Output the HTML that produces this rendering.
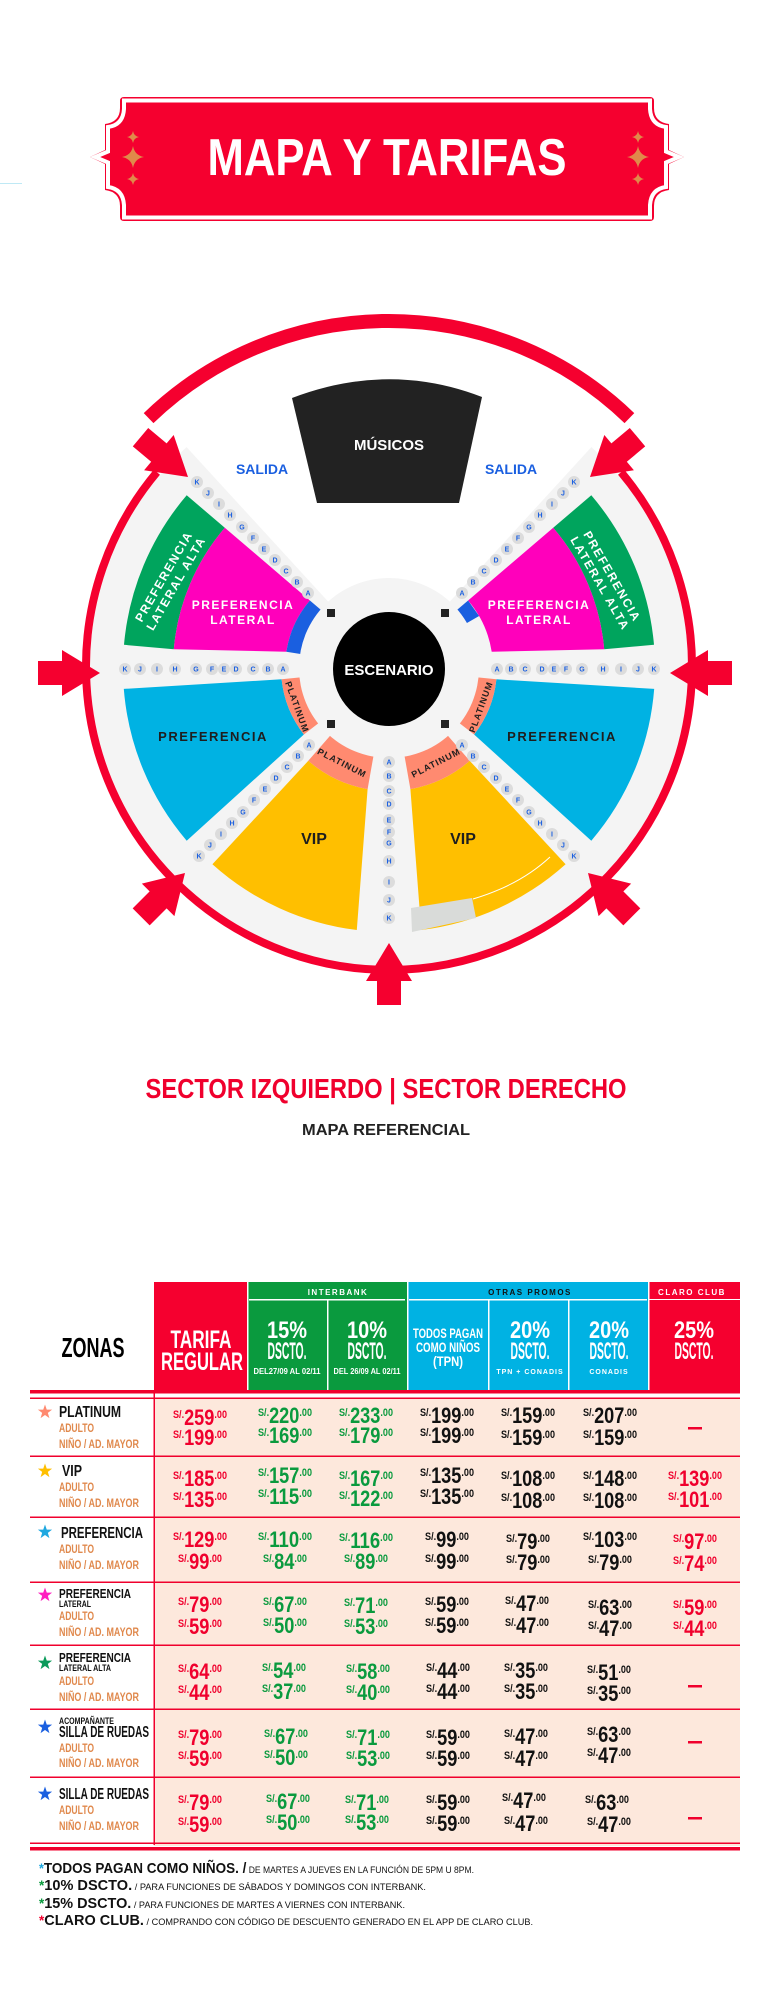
<!DOCTYPE html>
<html><head><meta charset="utf-8"><style>
html,body{margin:0;padding:0;background:#fff}
svg{display:block}
text{font-family:"Liberation Sans Narrow","Liberation Sans",sans-serif;font-weight:bold}
.L circle{fill:#dcdcdc}
.L text{fill:#1a5fe0;font-size:7px;text-anchor:middle;font-family:"Liberation Sans",sans-serif}
.r{fill:#f0002d}.g{fill:#0a9a3e}.k{fill:#111}
.s{font-size:11px}.b{font-size:22px}
.zn{fill:#111;font-size:16px}.za{fill:#e0894d;font-size:12px}
.hw{fill:#fff;text-anchor:middle}
</style></head><body>
<svg width="768" height="2002" viewBox="0 0 768 2002" xmlns="http://www.w3.org/2000/svg">
<defs>
<path id="star" d="M0,-7.5 L1.76,-2.43 L7.13,-2.32 L2.85,0.93 L4.41,6.07 L0,3 L-4.41,6.07 L-2.85,0.93 L-7.13,-2.32 L-1.76,-2.43 Z"/>
<path id="arw" d="M0,0 L-38,-23 L-38,-12 L-62,-12 L-62,12 L-38,12 L-38,23 Z"/>
<path id="sp" d="M0,-1 Q0.15,-0.15 1,0 Q0.15,0.15 0,1 Q-0.15,0.15 -1,0 Q-0.15,-0.15 0,-1 Z"/>
</defs>
<rect x="0" y="183" width="22" height="1" fill="#bfe9f5"/>
<!-- Banner -->
<path d="M124,97 H650 Q654,97 654,101 V108 Q654,122 669,124 V150 L684,157 L669,164 V190 Q654,192 654,206 V217 Q654,221 650,221 H124 Q120,221 120,217 V206 Q120,192 105,190 V164 L90,157 L105,150 V124 Q120,122 120,108 V101 Q120,97 124,97 Z" fill="#f5002f"/>
<path d="M124,100.5 H650 V109 Q651,125 666,127 V151.5 L679,157 L666,162.5 V187 Q651,189 650,205 V217.5 H124 V205 Q123,189 108,187 V162.5 L95,157 L108,151.5 V127 Q123,125 124,109 Z" fill="none" stroke="#fff" stroke-width="4"/>
<g fill="#e08a4a">
<use href="#sp" transform="translate(133,137) scale(6)"/><use href="#sp" transform="translate(133,157) scale(11)"/><use href="#sp" transform="translate(133,179) scale(6)"/>
<use href="#sp" transform="translate(638,137) scale(6)"/><use href="#sp" transform="translate(638,157) scale(11)"/><use href="#sp" transform="translate(638,179) scale(6)"/>
</g>
<text x="387" y="175" font-size="52" fill="#fff" text-anchor="middle" textLength="359" lengthAdjust="spacingAndGlyphs">MAPA Y TARIFAS</text>

<!-- Map -->
<circle cx="389" cy="667" r="299" fill="#f4f4f4"/>
<polygon points="389,668 -16,226 794,226" fill="#fff"/>
<path d="M148.6,418.1 A346 346 0 0 1 629.4,418.1" fill="none" stroke="#f5002f" stroke-width="14"/>
<path d="M156.9,472.2 A303 303 0 1 0 621.1,472.2" fill="none" stroke="#f5002f" stroke-width="8"/>
<path d="M292,398 Q389,361 482,397 L459,503 L317,503 Z" fill="#222"/>
<text x="389" y="450" font-size="15" fill="#fff" text-anchor="middle">MÚSICOS</text>
<text x="262" y="474" font-size="14" fill="#1a5fe0" text-anchor="middle">SALIDA</text>
<text x="511" y="474" font-size="14" fill="#1a5fe0" text-anchor="middle">SALIDA</text>

<!-- left sections -->
<path d="M186.7,495.3 A266 266 0 0 0 124,644.8 L173.8,649.2 A216 216 0 0 1 224.8,527.7 Z" fill="#00a45d"/>
<path d="M224.8,527.7 A216 216 0 0 0 173.8,649.2 L286.3,651.7 A104 104 0 0 1 309.9,600.5 Z" fill="#ff00bb"/>
<path d="M309.9,600.5 A104 104 0 0 0 286.3,651.7 L302.1,654.2 A88 88 0 0 1 322.1,610.9 Z" fill="#1a5fe0"/>
<path d="M123.8,688.9 A266 266 0 0 0 186.7,840.7 L303.9,734.5 A108 108 0 0 1 281.6,679.3 Z" fill="#00b2e3"/>
<path d="M281.6,679.3 A108 108 0 0 0 303.9,734.5 L319.7,722.2 A88 88 0 0 1 301.5,677.2 Z" fill="#ff8a70"/>
<path d="M212.4,864.2 A264 264 0 0 0 356.8,930 L367.6,789.1 A123 123 0 0 1 308.3,760.8 Z" fill="#ffbf00"/>
<path d="M308.3,760.8 A123 123 0 0 0 367.6,789.1 L373.7,754.7 A88 88 0 0 1 331.3,734.4 Z" fill="#ff8a70"/>
<!-- right sections -->
<path d="M591.3,495.3 A266 266 0 0 1 654,644.8 L604.2,649.2 A216 216 0 0 0 553.2,527.7 Z" fill="#00a45d"/>
<path d="M553.2,527.7 A216 216 0 0 1 604.2,649.2 L491.7,651.7 A104 104 0 0 0 468.1,600.5 Z" fill="#ff00bb"/>
<path d="M468.1,600.5 L479.1,616 L465.2,624 L455.9,610.9 Z" fill="#1a5fe0"/>
<path d="M654.2,688.9 A266 266 0 0 1 591.3,840.7 L474.1,734.5 A108 108 0 0 0 496.4,679.3 Z" fill="#00b2e3"/>
<path d="M496.4,679.3 A108 108 0 0 1 474.1,734.5 L458.3,722.2 A88 88 0 0 0 476.5,677.2 Z" fill="#ff8a70"/>
<path d="M565.6,864.2 A264 264 0 0 1 421.2,930 L410.4,789.1 A123 123 0 0 0 469.7,760.8 Z" fill="#ffbf00"/>
<path d="M469.7,760.8 A123 123 0 0 1 410.4,789.1 L404.3,754.7 A88 88 0 0 0 446.7,734.4 Z" fill="#ff8a70"/>
<polygon points="411,908 472,898 476,918 412,932" fill="#d9dbd9"/>
<path d="M473,899 Q520,885 550,857" fill="none" stroke="#fff" stroke-width="1"/>

<circle cx="389" cy="668" r="90" fill="#f4f4f4"/>
<ellipse cx="389" cy="669" rx="56" ry="57" fill="#000"/>
<text x="389" y="675" font-size="15" fill="#fff" text-anchor="middle">ESCENARIO</text>
<g fill="#222"><rect x="327" y="609" width="8" height="8"/><rect x="441" y="609" width="8" height="8"/><rect x="327" y="720" width="8" height="8"/><rect x="441" y="720" width="8" height="8"/></g>

<g fill="#fff" font-size="12" letter-spacing="1.5" text-anchor="middle" font-family="Liberation Sans">
<text x="243" y="609">PREFERENCIA</text><text x="243" y="624">LATERAL</text>
<text x="539" y="609">PREFERENCIA</text><text x="539" y="624">LATERAL</text>
<g transform="translate(170,580) rotate(-60)"><text x="0" y="-3">PREFERENCIA</text><text x="0" y="11">LATERAL ALTA</text></g>
<g transform="translate(606,580) rotate(60)"><text x="0" y="-3">PREFERENCIA</text><text x="0" y="11">LATERAL ALTA</text></g>
</g>
<g fill="#1e1e1e" text-anchor="middle">
<text x="213" y="741" font-size="13" letter-spacing="1.5">PREFERENCIA</text>
<text x="562" y="741" font-size="13" letter-spacing="1.5">PREFERENCIA</text>
<text x="314" y="844" font-size="16">VIP</text>
<text x="463" y="844" font-size="16">VIP</text>
<g font-size="9" letter-spacing="1">
<text transform="translate(297,707) rotate(70)" y="3">PLATINUM</text>
<text transform="translate(481,707) rotate(-70)" y="3">PLATINUM</text>
<text transform="translate(342,763) rotate(27)" y="3">PLATINUM</text>
<text transform="translate(436,763) rotate(-27)" y="3">PLATINUM</text>
</g></g>

<g class="L">
<!-- upper left -->
<circle cx="308" cy="593" r="6"/><text x="308" y="595.5">A</text>
<circle cx="297" cy="582" r="6"/><text x="297" y="584.5">B</text>
<circle cx="286" cy="571" r="6"/><text x="286" y="573.5">C</text>
<circle cx="275" cy="560" r="6"/><text x="275" y="562.5">D</text>
<circle cx="264" cy="549" r="6"/><text x="264" y="551.5">E</text>
<circle cx="253" cy="538" r="6"/><text x="253" y="540.5">F</text>
<circle cx="242" cy="527" r="6"/><text x="242" y="529.5">G</text>
<circle cx="230" cy="515" r="6"/><text x="230" y="517.5">H</text>
<circle cx="219" cy="504" r="6"/><text x="219" y="506.5">I</text>
<circle cx="208" cy="493" r="6"/><text x="208" y="495.5">J</text>
<circle cx="197" cy="482" r="6"/><text x="197" y="484.5">K</text>
<!-- upper right -->
<circle cx="462" cy="593" r="6"/><text x="462" y="595.5">A</text>
<circle cx="473" cy="582" r="6"/><text x="473" y="584.5">B</text>
<circle cx="484" cy="571" r="6"/><text x="484" y="573.5">C</text>
<circle cx="496" cy="560" r="6"/><text x="496" y="562.5">D</text>
<circle cx="507" cy="549" r="6"/><text x="507" y="551.5">E</text>
<circle cx="518" cy="538" r="6"/><text x="518" y="540.5">F</text>
<circle cx="529" cy="527" r="6"/><text x="529" y="529.5">G</text>
<circle cx="540" cy="515" r="6"/><text x="540" y="517.5">H</text>
<circle cx="552" cy="504" r="6"/><text x="552" y="506.5">I</text>
<circle cx="563" cy="493" r="6"/><text x="563" y="495.5">J</text>
<circle cx="574" cy="482" r="6"/><text x="574" y="484.5">K</text>
<!-- lower left -->
<circle cx="309" cy="745" r="6"/><text x="309" y="747.5">A</text>
<circle cx="298" cy="756" r="6"/><text x="298" y="758.5">B</text>
<circle cx="287" cy="767" r="6"/><text x="287" y="769.5">C</text>
<circle cx="276" cy="778" r="6"/><text x="276" y="780.5">D</text>
<circle cx="265" cy="789" r="6"/><text x="265" y="791.5">E</text>
<circle cx="254" cy="800" r="6"/><text x="254" y="802.5">F</text>
<circle cx="243" cy="812" r="6"/><text x="243" y="814.5">G</text>
<circle cx="232" cy="823" r="6"/><text x="232" y="825.5">H</text>
<circle cx="221" cy="834" r="6"/><text x="221" y="836.5">I</text>
<circle cx="210" cy="845" r="6"/><text x="210" y="847.5">J</text>
<circle cx="199" cy="856" r="6"/><text x="199" y="858.5">K</text>
<!-- lower right -->
<circle cx="462" cy="745" r="6"/><text x="462" y="747.5">A</text>
<circle cx="473" cy="756" r="6"/><text x="473" y="758.5">B</text>
<circle cx="484" cy="767" r="6"/><text x="484" y="769.5">C</text>
<circle cx="496" cy="778" r="6"/><text x="496" y="780.5">D</text>
<circle cx="507" cy="789" r="6"/><text x="507" y="791.5">E</text>
<circle cx="518" cy="800" r="6"/><text x="518" y="802.5">F</text>
<circle cx="529" cy="812" r="6"/><text x="529" y="814.5">G</text>
<circle cx="540" cy="823" r="6"/><text x="540" y="825.5">H</text>
<circle cx="552" cy="834" r="6"/><text x="552" y="836.5">I</text>
<circle cx="563" cy="845" r="6"/><text x="563" y="847.5">J</text>
<circle cx="574" cy="856" r="6"/><text x="574" y="858.5">K</text>
<!-- horizontal left -->
<circle cx="125" cy="669" r="6"/><text x="125" y="671.5">K</text>
<circle cx="140" cy="669" r="6"/><text x="140" y="671.5">J</text>
<circle cx="157" cy="669" r="6"/><text x="157" y="671.5">I</text>
<circle cx="175" cy="669" r="6"/><text x="175" y="671.5">H</text>
<circle cx="196" cy="669" r="6"/><text x="196" y="671.5">G</text>
<circle cx="212" cy="669" r="6"/><text x="212" y="671.5">F</text>
<circle cx="224" cy="669" r="6"/><text x="224" y="671.5">E</text>
<circle cx="236" cy="669" r="6"/><text x="236" y="671.5">D</text>
<circle cx="253" cy="669" r="6"/><text x="253" y="671.5">C</text>
<circle cx="268" cy="669" r="6"/><text x="268" y="671.5">B</text>
<circle cx="283" cy="669" r="6"/><text x="283" y="671.5">A</text>
<!-- horizontal right -->
<circle cx="497" cy="669" r="6"/><text x="497" y="671.5">A</text>
<circle cx="511" cy="669" r="6"/><text x="511" y="671.5">B</text>
<circle cx="525" cy="669" r="6"/><text x="525" y="671.5">C</text>
<circle cx="542" cy="669" r="6"/><text x="542" y="671.5">D</text>
<circle cx="554" cy="669" r="6"/><text x="554" y="671.5">E</text>
<circle cx="566" cy="669" r="6"/><text x="566" y="671.5">F</text>
<circle cx="582" cy="669" r="6"/><text x="582" y="671.5">G</text>
<circle cx="603" cy="669" r="6"/><text x="603" y="671.5">H</text>
<circle cx="621" cy="669" r="6"/><text x="621" y="671.5">I</text>
<circle cx="638" cy="669" r="6"/><text x="638" y="671.5">J</text>
<circle cx="654" cy="669" r="6"/><text x="654" y="671.5">K</text>
<!-- vertical -->
<circle cx="389" cy="762" r="6"/><text x="389" y="764.5">A</text>
<circle cx="389" cy="776" r="6"/><text x="389" y="778.5">B</text>
<circle cx="389" cy="791" r="6"/><text x="389" y="793.5">C</text>
<circle cx="389" cy="804" r="6"/><text x="389" y="806.5">D</text>
<circle cx="389" cy="820" r="6"/><text x="389" y="822.5">E</text>
<circle cx="389" cy="832" r="6"/><text x="389" y="834.5">F</text>
<circle cx="389" cy="843" r="6"/><text x="389" y="845.5">G</text>
<circle cx="389" cy="861" r="6"/><text x="389" y="863.5">H</text>
<circle cx="389" cy="882" r="6"/><text x="389" y="884.5">I</text>
<circle cx="389" cy="900" r="6"/><text x="389" y="902.5">J</text>
<circle cx="389" cy="918" r="6"/><text x="389" y="920.5">K</text>
</g>

<g fill="#f5002f">
<use href="#arw" transform="translate(100,673)"/>
<use href="#arw" transform="translate(670,673) rotate(180)"/>
<use href="#arw" transform="translate(389,943) rotate(-90)"/>
<use href="#arw" transform="translate(188,477) rotate(40)"/>
<use href="#arw" transform="translate(590,477) rotate(140)"/>
<use href="#arw" transform="translate(185,873) rotate(-45)"/>
<use href="#arw" transform="translate(588,873) rotate(-135)"/>
</g>

<text x="386" y="1098" font-size="28" fill="#f0002d" text-anchor="middle" textLength="481" lengthAdjust="spacingAndGlyphs">SECTOR IZQUIERDO | SECTOR DERECHO</text>
<text x="386" y="1135" font-size="16" fill="#222" text-anchor="middle" textLength="168" lengthAdjust="spacingAndGlyphs" font-weight="normal">MAPA REFERENCIAL</text>

<!-- Table header -->
<rect x="154" y="1282" width="93" height="108" fill="#f5002f"/>
<rect x="247" y="1282" width="160" height="108" fill="#0a9a3e"/>
<rect x="407" y="1282" width="242" height="108" fill="#00b2e3"/>
<rect x="649" y="1282" width="91" height="108" fill="#f5002f"/>
<g fill="#fff">
<rect x="249" y="1299" width="156" height="1.5"/>
<rect x="409" y="1299" width="238" height="1.5"/>
<rect x="649" y="1299" width="91" height="1"/>
<rect x="247" y="1282" width="1.5" height="108"/>
<rect x="327" y="1300" width="1.5" height="90"/>
<rect x="407" y="1282" width="1.5" height="108"/>
<rect x="488" y="1300" width="1.5" height="90"/>
<rect x="568" y="1300" width="1.5" height="90"/>
<rect x="648" y="1282" width="1.5" height="108"/>
</g>
<text x="93" y="1357" font-size="28" fill="#000" text-anchor="middle" textLength="63" lengthAdjust="spacingAndGlyphs">ZONAS</text>
<g class="hw">
<text x="201" y="1348" font-size="25" textLength="61" lengthAdjust="spacingAndGlyphs">TARIFA</text>
<text x="202" y="1370" font-size="25" textLength="82" lengthAdjust="spacingAndGlyphs">REGULAR</text>
<text x="338" y="1295" font-size="8" letter-spacing="1.5" font-family="Liberation Sans">INTERBANK</text>
<text x="530" y="1295" font-size="8" letter-spacing="1.5" font-family="Liberation Sans" fill="#111" style="fill:#111">OTRAS PROMOS</text>
<text x="692" y="1295" font-size="8" letter-spacing="1.5" font-family="Liberation Sans">CLARO CLUB</text>
<text x="287" y="1338" font-size="24" textLength="40" lengthAdjust="spacingAndGlyphs">15%</text>
<text x="287" y="1359" font-size="24" textLength="39" lengthAdjust="spacingAndGlyphs">DSCTO.</text>
<text x="287" y="1374" font-size="8" textLength="67" lengthAdjust="spacingAndGlyphs">DEL27/09 AL 02/11</text>
<text x="367" y="1338" font-size="24" textLength="40" lengthAdjust="spacingAndGlyphs">10%</text>
<text x="367" y="1359" font-size="24" textLength="39" lengthAdjust="spacingAndGlyphs">DSCTO.</text>
<text x="367" y="1374" font-size="8" textLength="67" lengthAdjust="spacingAndGlyphs">DEL 26/09 AL 02/11</text>
<text x="448" y="1338" font-size="14" textLength="70" lengthAdjust="spacingAndGlyphs">TODOS PAGAN</text>
<text x="448" y="1352" font-size="14" textLength="64" lengthAdjust="spacingAndGlyphs">COMO NIÑOS</text>
<text x="448" y="1366" font-size="14" textLength="30" lengthAdjust="spacingAndGlyphs">(TPN)</text>
<text x="530" y="1338" font-size="24" textLength="40" lengthAdjust="spacingAndGlyphs">20%</text>
<text x="530" y="1359" font-size="24" textLength="39" lengthAdjust="spacingAndGlyphs">DSCTO.</text>
<text x="530" y="1374" font-size="7" letter-spacing="1" font-family="Liberation Sans">TPN + CONADIS</text>
<text x="609" y="1338" font-size="24" textLength="40" lengthAdjust="spacingAndGlyphs">20%</text>
<text x="609" y="1359" font-size="24" textLength="39" lengthAdjust="spacingAndGlyphs">DSCTO.</text>
<text x="609" y="1374" font-size="7" letter-spacing="1" font-family="Liberation Sans">CONADIS</text>
<text x="694" y="1338" font-size="24" textLength="40" lengthAdjust="spacingAndGlyphs">25%</text>
<text x="694" y="1359" font-size="24" textLength="39" lengthAdjust="spacingAndGlyphs">DSCTO.</text>
</g>
<rect x="30" y="1390" width="710" height="3.5" fill="#f0002d"/>

<!-- Table body -->
<rect x="154" y="1398" width="586" height="448" fill="#fde8dc"/>
<g fill="#f0002d">
<rect x="30" y="1397.5" width="710" height="1.5"/>
<rect x="30" y="1455.5" width="710" height="1.5"/>
<rect x="30" y="1516.5" width="710" height="1.5"/>
<rect x="30" y="1581.5" width="710" height="1.5"/>
<rect x="30" y="1644.5" width="710" height="1.5"/>
<rect x="30" y="1708.5" width="710" height="1.5"/>
<rect x="30" y="1776.5" width="710" height="1.5"/>
<rect x="30" y="1842.5" width="710" height="1.5"/>
<rect x="30" y="1847" width="710" height="3.5"/>
<rect x="153.5" y="1390" width="1.5" height="455"/>
<rect x="688" y="1427" width="14" height="2.5"/>
<rect x="688" y="1685" width="14" height="2.5"/>
<rect x="688" y="1741" width="14" height="2.5"/>
<rect x="688" y="1817" width="14" height="2.5"/>
</g>

<!-- zone labels -->
<use href="#star" x="45" y="1412" fill="#ff8a70"/>
<use href="#star" x="45" y="1471" fill="#ffbf00"/>
<use href="#star" x="45" y="1532" fill="#1fa8e0"/>
<use href="#star" x="45" y="1595" fill="#ff1fc0"/>
<use href="#star" x="45" y="1663" fill="#0a9a5a"/>
<use href="#star" x="45" y="1727" fill="#1a5fe0"/>
<use href="#star" x="45" y="1794" fill="#1a5fe0"/>
<text class="zn" x="59" y="1417" textLength="62" lengthAdjust="spacingAndGlyphs">PLATINUM</text>
<text class="za" x="59" y="1432" textLength="35" lengthAdjust="spacingAndGlyphs">ADULTO</text>
<text class="za" x="59" y="1448" textLength="80" lengthAdjust="spacingAndGlyphs">NIÑO / AD. MAYOR</text>
<text class="zn" x="62" y="1476" textLength="20" lengthAdjust="spacingAndGlyphs">VIP</text>
<text class="za" x="59" y="1491" textLength="35" lengthAdjust="spacingAndGlyphs">ADULTO</text>
<text class="za" x="59" y="1507" textLength="80" lengthAdjust="spacingAndGlyphs">NIÑO / AD. MAYOR</text>
<text class="zn" x="61" y="1538" textLength="82" lengthAdjust="spacingAndGlyphs">PREFERENCIA</text>
<text class="za" x="59" y="1553" textLength="35" lengthAdjust="spacingAndGlyphs">ADULTO</text>
<text class="za" x="59" y="1569" textLength="80" lengthAdjust="spacingAndGlyphs">NIÑO / AD. MAYOR</text>
<text class="zn" x="59" y="1598" font-size="13" style="font-size:13px" textLength="72" lengthAdjust="spacingAndGlyphs">PREFERENCIA</text>
<text x="59" y="1607" font-size="9" fill="#111" textLength="32" lengthAdjust="spacingAndGlyphs">LATERAL</text>
<text class="za" x="59" y="1620" textLength="35" lengthAdjust="spacingAndGlyphs">ADULTO</text>
<text class="za" x="59" y="1636" textLength="80" lengthAdjust="spacingAndGlyphs">NIÑO / AD. MAYOR</text>
<text class="zn" x="59" y="1662" style="font-size:13px" textLength="72" lengthAdjust="spacingAndGlyphs">PREFERENCIA</text>
<text x="59" y="1671" font-size="9" fill="#111" textLength="52" lengthAdjust="spacingAndGlyphs">LATERAL ALTA</text>
<text class="za" x="59" y="1685" textLength="35" lengthAdjust="spacingAndGlyphs">ADULTO</text>
<text class="za" x="59" y="1701" textLength="80" lengthAdjust="spacingAndGlyphs">NIÑO / AD. MAYOR</text>
<text x="59" y="1724" font-size="9" fill="#111" textLength="55" lengthAdjust="spacingAndGlyphs">ACOMPAÑANTE</text>
<text class="zn" x="59" y="1737" textLength="90" lengthAdjust="spacingAndGlyphs">SILLA DE RUEDAS</text>
<text class="za" x="59" y="1752" textLength="35" lengthAdjust="spacingAndGlyphs">ADULTO</text>
<text class="za" x="59" y="1767" textLength="80" lengthAdjust="spacingAndGlyphs">NIÑO / AD. MAYOR</text>
<text class="zn" x="59" y="1799" textLength="90" lengthAdjust="spacingAndGlyphs">SILLA DE RUEDAS</text>
<text class="za" x="59" y="1814" textLength="35" lengthAdjust="spacingAndGlyphs">ADULTO</text>
<text class="za" x="59" y="1830" textLength="80" lengthAdjust="spacingAndGlyphs">NIÑO / AD. MAYOR</text>

<!-- prices -->
<g text-anchor="middle">
<!-- Platinum -->
<text class="r" x="200" y="1425" textLength="54" lengthAdjust="spacingAndGlyphs"><tspan class="s" dy="-7">S/.</tspan><tspan class="b" dy="7">259</tspan><tspan class="s" dy="-7">.00</tspan></text>
<text class="r" x="200" y="1445" textLength="54" lengthAdjust="spacingAndGlyphs"><tspan class="s" dy="-7">S/.</tspan><tspan class="b" dy="7">199</tspan><tspan class="s" dy="-7">.00</tspan></text>
<text class="g" x="285" y="1423" textLength="54" lengthAdjust="spacingAndGlyphs"><tspan class="s" dy="-7">S/.</tspan><tspan class="b" dy="7">220</tspan><tspan class="s" dy="-7">.00</tspan></text>
<text class="g" x="285" y="1443" textLength="54" lengthAdjust="spacingAndGlyphs"><tspan class="s" dy="-7">S/.</tspan><tspan class="b" dy="7">169</tspan><tspan class="s" dy="-7">.00</tspan></text>
<text class="g" x="366" y="1423" textLength="54" lengthAdjust="spacingAndGlyphs"><tspan class="s" dy="-7">S/.</tspan><tspan class="b" dy="7">233</tspan><tspan class="s" dy="-7">.00</tspan></text>
<text class="g" x="366" y="1443" textLength="54" lengthAdjust="spacingAndGlyphs"><tspan class="s" dy="-7">S/.</tspan><tspan class="b" dy="7">179</tspan><tspan class="s" dy="-7">.00</tspan></text>
<text class="k" x="447" y="1423" textLength="54" lengthAdjust="spacingAndGlyphs"><tspan class="s" dy="-7">S/.</tspan><tspan class="b" dy="7">199</tspan><tspan class="s" dy="-7">.00</tspan></text>
<text class="k" x="447" y="1443" textLength="54" lengthAdjust="spacingAndGlyphs"><tspan class="s" dy="-7">S/.</tspan><tspan class="b" dy="7">199</tspan><tspan class="s" dy="-7">.00</tspan></text>
<text class="k" x="528" y="1423" textLength="54" lengthAdjust="spacingAndGlyphs"><tspan class="s" dy="-7">S/.</tspan><tspan class="b" dy="7">159</tspan><tspan class="s" dy="-7">.00</tspan></text>
<text class="k" x="528" y="1445" textLength="54" lengthAdjust="spacingAndGlyphs"><tspan class="s" dy="-7">S/.</tspan><tspan class="b" dy="7">159</tspan><tspan class="s" dy="-7">.00</tspan></text>
<text class="k" x="610" y="1423" textLength="54" lengthAdjust="spacingAndGlyphs"><tspan class="s" dy="-7">S/.</tspan><tspan class="b" dy="7">207</tspan><tspan class="s" dy="-7">.00</tspan></text>
<text class="k" x="610" y="1445" textLength="54" lengthAdjust="spacingAndGlyphs"><tspan class="s" dy="-7">S/.</tspan><tspan class="b" dy="7">159</tspan><tspan class="s" dy="-7">.00</tspan></text>
<!-- VIP -->
<text class="r" x="200" y="1486" textLength="54" lengthAdjust="spacingAndGlyphs"><tspan class="s" dy="-7">S/.</tspan><tspan class="b" dy="7">185</tspan><tspan class="s" dy="-7">.00</tspan></text>
<text class="r" x="200" y="1507" textLength="54" lengthAdjust="spacingAndGlyphs"><tspan class="s" dy="-7">S/.</tspan><tspan class="b" dy="7">135</tspan><tspan class="s" dy="-7">.00</tspan></text>
<text class="g" x="285" y="1483" textLength="54" lengthAdjust="spacingAndGlyphs"><tspan class="s" dy="-7">S/.</tspan><tspan class="b" dy="7">157</tspan><tspan class="s" dy="-7">.00</tspan></text>
<text class="g" x="285" y="1504" textLength="54" lengthAdjust="spacingAndGlyphs"><tspan class="s" dy="-7">S/.</tspan><tspan class="b" dy="7">115</tspan><tspan class="s" dy="-7">.00</tspan></text>
<text class="g" x="366" y="1486" textLength="54" lengthAdjust="spacingAndGlyphs"><tspan class="s" dy="-7">S/.</tspan><tspan class="b" dy="7">167</tspan><tspan class="s" dy="-7">.00</tspan></text>
<text class="g" x="366" y="1506" textLength="54" lengthAdjust="spacingAndGlyphs"><tspan class="s" dy="-7">S/.</tspan><tspan class="b" dy="7">122</tspan><tspan class="s" dy="-7">.00</tspan></text>
<text class="k" x="447" y="1483" textLength="54" lengthAdjust="spacingAndGlyphs"><tspan class="s" dy="-7">S/.</tspan><tspan class="b" dy="7">135</tspan><tspan class="s" dy="-7">.00</tspan></text>
<text class="k" x="447" y="1504" textLength="54" lengthAdjust="spacingAndGlyphs"><tspan class="s" dy="-7">S/.</tspan><tspan class="b" dy="7">135</tspan><tspan class="s" dy="-7">.00</tspan></text>
<text class="k" x="528" y="1486" textLength="54" lengthAdjust="spacingAndGlyphs"><tspan class="s" dy="-7">S/.</tspan><tspan class="b" dy="7">108</tspan><tspan class="s" dy="-7">.00</tspan></text>
<text class="k" x="528" y="1508" textLength="54" lengthAdjust="spacingAndGlyphs"><tspan class="s" dy="-7">S/.</tspan><tspan class="b" dy="7">108</tspan><tspan class="s" dy="-7">.00</tspan></text>
<text class="k" x="610" y="1486" textLength="54" lengthAdjust="spacingAndGlyphs"><tspan class="s" dy="-7">S/.</tspan><tspan class="b" dy="7">148</tspan><tspan class="s" dy="-7">.00</tspan></text>
<text class="k" x="610" y="1508" textLength="54" lengthAdjust="spacingAndGlyphs"><tspan class="s" dy="-7">S/.</tspan><tspan class="b" dy="7">108</tspan><tspan class="s" dy="-7">.00</tspan></text>
<text class="r" x="695" y="1486" textLength="54" lengthAdjust="spacingAndGlyphs"><tspan class="s" dy="-7">S/.</tspan><tspan class="b" dy="7">139</tspan><tspan class="s" dy="-7">.00</tspan></text>
<text class="r" x="695" y="1507" textLength="54" lengthAdjust="spacingAndGlyphs"><tspan class="s" dy="-7">S/.</tspan><tspan class="b" dy="7">101</tspan><tspan class="s" dy="-7">.00</tspan></text>
<!-- Preferencia -->
<text class="r" x="200" y="1547" textLength="54" lengthAdjust="spacingAndGlyphs"><tspan class="s" dy="-7">S/.</tspan><tspan class="b" dy="7">129</tspan><tspan class="s" dy="-7">.00</tspan></text>
<text class="r" x="200" y="1569" textLength="44" lengthAdjust="spacingAndGlyphs"><tspan class="s" dy="-7">S/.</tspan><tspan class="b" dy="7">99</tspan><tspan class="s" dy="-7">.00</tspan></text>
<text class="g" x="285" y="1547" textLength="54" lengthAdjust="spacingAndGlyphs"><tspan class="s" dy="-7">S/.</tspan><tspan class="b" dy="7">110</tspan><tspan class="s" dy="-7">.00</tspan></text>
<text class="g" x="285" y="1569" textLength="44" lengthAdjust="spacingAndGlyphs"><tspan class="s" dy="-7">S/.</tspan><tspan class="b" dy="7">84</tspan><tspan class="s" dy="-7">.00</tspan></text>
<text class="g" x="366" y="1548" textLength="54" lengthAdjust="spacingAndGlyphs"><tspan class="s" dy="-7">S/.</tspan><tspan class="b" dy="7">116</tspan><tspan class="s" dy="-7">.00</tspan></text>
<text class="g" x="366" y="1569" textLength="44" lengthAdjust="spacingAndGlyphs"><tspan class="s" dy="-7">S/.</tspan><tspan class="b" dy="7">89</tspan><tspan class="s" dy="-7">.00</tspan></text>
<text class="k" x="447" y="1547" textLength="44" lengthAdjust="spacingAndGlyphs"><tspan class="s" dy="-7">S/.</tspan><tspan class="b" dy="7">99</tspan><tspan class="s" dy="-7">.00</tspan></text>
<text class="k" x="447" y="1569" textLength="44" lengthAdjust="spacingAndGlyphs"><tspan class="s" dy="-7">S/.</tspan><tspan class="b" dy="7">99</tspan><tspan class="s" dy="-7">.00</tspan></text>
<text class="k" x="528" y="1549" textLength="44" lengthAdjust="spacingAndGlyphs"><tspan class="s" dy="-7">S/.</tspan><tspan class="b" dy="7">79</tspan><tspan class="s" dy="-7">.00</tspan></text>
<text class="k" x="528" y="1570" textLength="44" lengthAdjust="spacingAndGlyphs"><tspan class="s" dy="-7">S/.</tspan><tspan class="b" dy="7">79</tspan><tspan class="s" dy="-7">.00</tspan></text>
<text class="k" x="610" y="1547" textLength="54" lengthAdjust="spacingAndGlyphs"><tspan class="s" dy="-7">S/.</tspan><tspan class="b" dy="7">103</tspan><tspan class="s" dy="-7">.00</tspan></text>
<text class="k" x="610" y="1570" textLength="44" lengthAdjust="spacingAndGlyphs"><tspan class="s" dy="-7">S/.</tspan><tspan class="b" dy="7">79</tspan><tspan class="s" dy="-7">.00</tspan></text>
<text class="r" x="695" y="1549" textLength="44" lengthAdjust="spacingAndGlyphs"><tspan class="s" dy="-7">S/.</tspan><tspan class="b" dy="7">97</tspan><tspan class="s" dy="-7">.00</tspan></text>
<text class="r" x="695" y="1571" textLength="44" lengthAdjust="spacingAndGlyphs"><tspan class="s" dy="-7">S/.</tspan><tspan class="b" dy="7">74</tspan><tspan class="s" dy="-7">.00</tspan></text>
<!-- Lateral -->
<text class="r" x="200" y="1612" textLength="44" lengthAdjust="spacingAndGlyphs"><tspan class="s" dy="-7">S/.</tspan><tspan class="b" dy="7">79</tspan><tspan class="s" dy="-7">.00</tspan></text>
<text class="r" x="200" y="1634" textLength="44" lengthAdjust="spacingAndGlyphs"><tspan class="s" dy="-7">S/.</tspan><tspan class="b" dy="7">59</tspan><tspan class="s" dy="-7">.00</tspan></text>
<text class="g" x="285" y="1612" textLength="44" lengthAdjust="spacingAndGlyphs"><tspan class="s" dy="-7">S/.</tspan><tspan class="b" dy="7">67</tspan><tspan class="s" dy="-7">.00</tspan></text>
<text class="g" x="285" y="1633" textLength="44" lengthAdjust="spacingAndGlyphs"><tspan class="s" dy="-7">S/.</tspan><tspan class="b" dy="7">50</tspan><tspan class="s" dy="-7">.00</tspan></text>
<text class="g" x="366" y="1613" textLength="44" lengthAdjust="spacingAndGlyphs"><tspan class="s" dy="-7">S/.</tspan><tspan class="b" dy="7">71</tspan><tspan class="s" dy="-7">.00</tspan></text>
<text class="g" x="366" y="1634" textLength="44" lengthAdjust="spacingAndGlyphs"><tspan class="s" dy="-7">S/.</tspan><tspan class="b" dy="7">53</tspan><tspan class="s" dy="-7">.00</tspan></text>
<text class="k" x="447" y="1612" textLength="44" lengthAdjust="spacingAndGlyphs"><tspan class="s" dy="-7">S/.</tspan><tspan class="b" dy="7">59</tspan><tspan class="s" dy="-7">.00</tspan></text>
<text class="k" x="447" y="1633" textLength="44" lengthAdjust="spacingAndGlyphs"><tspan class="s" dy="-7">S/.</tspan><tspan class="b" dy="7">59</tspan><tspan class="s" dy="-7">.00</tspan></text>
<text class="k" x="527" y="1611" textLength="44" lengthAdjust="spacingAndGlyphs"><tspan class="s" dy="-7">S/.</tspan><tspan class="b" dy="7">47</tspan><tspan class="s" dy="-7">.00</tspan></text>
<text class="k" x="527" y="1633" textLength="44" lengthAdjust="spacingAndGlyphs"><tspan class="s" dy="-7">S/.</tspan><tspan class="b" dy="7">47</tspan><tspan class="s" dy="-7">.00</tspan></text>
<text class="k" x="610" y="1615" textLength="44" lengthAdjust="spacingAndGlyphs"><tspan class="s" dy="-7">S/.</tspan><tspan class="b" dy="7">63</tspan><tspan class="s" dy="-7">.00</tspan></text>
<text class="k" x="610" y="1636" textLength="44" lengthAdjust="spacingAndGlyphs"><tspan class="s" dy="-7">S/.</tspan><tspan class="b" dy="7">47</tspan><tspan class="s" dy="-7">.00</tspan></text>
<text class="r" x="695" y="1615" textLength="44" lengthAdjust="spacingAndGlyphs"><tspan class="s" dy="-7">S/.</tspan><tspan class="b" dy="7">59</tspan><tspan class="s" dy="-7">.00</tspan></text>
<text class="r" x="695" y="1636" textLength="44" lengthAdjust="spacingAndGlyphs"><tspan class="s" dy="-7">S/.</tspan><tspan class="b" dy="7">44</tspan><tspan class="s" dy="-7">.00</tspan></text>
<!-- Lateral alta -->
<text class="r" x="200" y="1679" textLength="44" lengthAdjust="spacingAndGlyphs"><tspan class="s" dy="-7">S/.</tspan><tspan class="b" dy="7">64</tspan><tspan class="s" dy="-7">.00</tspan></text>
<text class="r" x="200" y="1700" textLength="44" lengthAdjust="spacingAndGlyphs"><tspan class="s" dy="-7">S/.</tspan><tspan class="b" dy="7">44</tspan><tspan class="s" dy="-7">.00</tspan></text>
<text class="g" x="284" y="1678" textLength="44" lengthAdjust="spacingAndGlyphs"><tspan class="s" dy="-7">S/.</tspan><tspan class="b" dy="7">54</tspan><tspan class="s" dy="-7">.00</tspan></text>
<text class="g" x="284" y="1699" textLength="44" lengthAdjust="spacingAndGlyphs"><tspan class="s" dy="-7">S/.</tspan><tspan class="b" dy="7">37</tspan><tspan class="s" dy="-7">.00</tspan></text>
<text class="g" x="368" y="1679" textLength="44" lengthAdjust="spacingAndGlyphs"><tspan class="s" dy="-7">S/.</tspan><tspan class="b" dy="7">58</tspan><tspan class="s" dy="-7">.00</tspan></text>
<text class="g" x="368" y="1700" textLength="44" lengthAdjust="spacingAndGlyphs"><tspan class="s" dy="-7">S/.</tspan><tspan class="b" dy="7">40</tspan><tspan class="s" dy="-7">.00</tspan></text>
<text class="k" x="448" y="1678" textLength="44" lengthAdjust="spacingAndGlyphs"><tspan class="s" dy="-7">S/.</tspan><tspan class="b" dy="7">44</tspan><tspan class="s" dy="-7">.00</tspan></text>
<text class="k" x="448" y="1699" textLength="44" lengthAdjust="spacingAndGlyphs"><tspan class="s" dy="-7">S/.</tspan><tspan class="b" dy="7">44</tspan><tspan class="s" dy="-7">.00</tspan></text>
<text class="k" x="526" y="1678" textLength="44" lengthAdjust="spacingAndGlyphs"><tspan class="s" dy="-7">S/.</tspan><tspan class="b" dy="7">35</tspan><tspan class="s" dy="-7">.00</tspan></text>
<text class="k" x="526" y="1699" textLength="44" lengthAdjust="spacingAndGlyphs"><tspan class="s" dy="-7">S/.</tspan><tspan class="b" dy="7">35</tspan><tspan class="s" dy="-7">.00</tspan></text>
<text class="k" x="609" y="1680" textLength="44" lengthAdjust="spacingAndGlyphs"><tspan class="s" dy="-7">S/.</tspan><tspan class="b" dy="7">51</tspan><tspan class="s" dy="-7">.00</tspan></text>
<text class="k" x="609" y="1701" textLength="44" lengthAdjust="spacingAndGlyphs"><tspan class="s" dy="-7">S/.</tspan><tspan class="b" dy="7">35</tspan><tspan class="s" dy="-7">.00</tspan></text>
<!-- Acompañante -->
<text class="r" x="200" y="1745" textLength="44" lengthAdjust="spacingAndGlyphs"><tspan class="s" dy="-7">S/.</tspan><tspan class="b" dy="7">79</tspan><tspan class="s" dy="-7">.00</tspan></text>
<text class="r" x="200" y="1766" textLength="44" lengthAdjust="spacingAndGlyphs"><tspan class="s" dy="-7">S/.</tspan><tspan class="b" dy="7">59</tspan><tspan class="s" dy="-7">.00</tspan></text>
<text class="g" x="286" y="1744" textLength="44" lengthAdjust="spacingAndGlyphs"><tspan class="s" dy="-7">S/.</tspan><tspan class="b" dy="7">67</tspan><tspan class="s" dy="-7">.00</tspan></text>
<text class="g" x="286" y="1765" textLength="44" lengthAdjust="spacingAndGlyphs"><tspan class="s" dy="-7">S/.</tspan><tspan class="b" dy="7">50</tspan><tspan class="s" dy="-7">.00</tspan></text>
<text class="g" x="368" y="1745" textLength="44" lengthAdjust="spacingAndGlyphs"><tspan class="s" dy="-7">S/.</tspan><tspan class="b" dy="7">71</tspan><tspan class="s" dy="-7">.00</tspan></text>
<text class="g" x="368" y="1766" textLength="44" lengthAdjust="spacingAndGlyphs"><tspan class="s" dy="-7">S/.</tspan><tspan class="b" dy="7">53</tspan><tspan class="s" dy="-7">.00</tspan></text>
<text class="k" x="448" y="1745" textLength="44" lengthAdjust="spacingAndGlyphs"><tspan class="s" dy="-7">S/.</tspan><tspan class="b" dy="7">59</tspan><tspan class="s" dy="-7">.00</tspan></text>
<text class="k" x="448" y="1766" textLength="44" lengthAdjust="spacingAndGlyphs"><tspan class="s" dy="-7">S/.</tspan><tspan class="b" dy="7">59</tspan><tspan class="s" dy="-7">.00</tspan></text>
<text class="k" x="526" y="1744" textLength="44" lengthAdjust="spacingAndGlyphs"><tspan class="s" dy="-7">S/.</tspan><tspan class="b" dy="7">47</tspan><tspan class="s" dy="-7">.00</tspan></text>
<text class="k" x="526" y="1766" textLength="44" lengthAdjust="spacingAndGlyphs"><tspan class="s" dy="-7">S/.</tspan><tspan class="b" dy="7">47</tspan><tspan class="s" dy="-7">.00</tspan></text>
<text class="k" x="609" y="1742" textLength="44" lengthAdjust="spacingAndGlyphs"><tspan class="s" dy="-7">S/.</tspan><tspan class="b" dy="7">63</tspan><tspan class="s" dy="-7">.00</tspan></text>
<text class="k" x="609" y="1763" textLength="44" lengthAdjust="spacingAndGlyphs"><tspan class="s" dy="-7">S/.</tspan><tspan class="b" dy="7">47</tspan><tspan class="s" dy="-7">.00</tspan></text>
<!-- Silla -->
<text class="r" x="200" y="1810" textLength="44" lengthAdjust="spacingAndGlyphs"><tspan class="s" dy="-7">S/.</tspan><tspan class="b" dy="7">79</tspan><tspan class="s" dy="-7">.00</tspan></text>
<text class="r" x="200" y="1832" textLength="44" lengthAdjust="spacingAndGlyphs"><tspan class="s" dy="-7">S/.</tspan><tspan class="b" dy="7">59</tspan><tspan class="s" dy="-7">.00</tspan></text>
<text class="g" x="288" y="1809" textLength="44" lengthAdjust="spacingAndGlyphs"><tspan class="s" dy="-7">S/.</tspan><tspan class="b" dy="7">67</tspan><tspan class="s" dy="-7">.00</tspan></text>
<text class="g" x="288" y="1830" textLength="44" lengthAdjust="spacingAndGlyphs"><tspan class="s" dy="-7">S/.</tspan><tspan class="b" dy="7">50</tspan><tspan class="s" dy="-7">.00</tspan></text>
<text class="g" x="367" y="1810" textLength="44" lengthAdjust="spacingAndGlyphs"><tspan class="s" dy="-7">S/.</tspan><tspan class="b" dy="7">71</tspan><tspan class="s" dy="-7">.00</tspan></text>
<text class="g" x="367" y="1830" textLength="44" lengthAdjust="spacingAndGlyphs"><tspan class="s" dy="-7">S/.</tspan><tspan class="b" dy="7">53</tspan><tspan class="s" dy="-7">.00</tspan></text>
<text class="k" x="448" y="1810" textLength="44" lengthAdjust="spacingAndGlyphs"><tspan class="s" dy="-7">S/.</tspan><tspan class="b" dy="7">59</tspan><tspan class="s" dy="-7">.00</tspan></text>
<text class="k" x="448" y="1831" textLength="44" lengthAdjust="spacingAndGlyphs"><tspan class="s" dy="-7">S/.</tspan><tspan class="b" dy="7">59</tspan><tspan class="s" dy="-7">.00</tspan></text>
<text class="k" x="524" y="1808" textLength="44" lengthAdjust="spacingAndGlyphs"><tspan class="s" dy="-7">S/.</tspan><tspan class="b" dy="7">47</tspan><tspan class="s" dy="-7">.00</tspan></text>
<text class="k" x="526" y="1831" textLength="44" lengthAdjust="spacingAndGlyphs"><tspan class="s" dy="-7">S/.</tspan><tspan class="b" dy="7">47</tspan><tspan class="s" dy="-7">.00</tspan></text>
<text class="k" x="607" y="1810" textLength="44" lengthAdjust="spacingAndGlyphs"><tspan class="s" dy="-7">S/.</tspan><tspan class="b" dy="7">63</tspan><tspan class="s" dy="-7">.00</tspan></text>
<text class="k" x="609" y="1832" textLength="44" lengthAdjust="spacingAndGlyphs"><tspan class="s" dy="-7">S/.</tspan><tspan class="b" dy="7">47</tspan><tspan class="s" dy="-7">.00</tspan></text>
</g>

<!-- footnotes -->
<g fill="#111">
<text x="39" y="1873" textLength="435" lengthAdjust="spacingAndGlyphs"><tspan fill="#1fa8e0" font-size="14">*</tspan><tspan font-size="15">TODOS PAGAN COMO NIÑOS. /</tspan><tspan font-size="9.5" font-weight="normal"> DE MARTES A JUEVES EN LA FUNCIÓN DE 5PM U 8PM.</tspan></text>
<text x="39" y="1890" textLength="387" lengthAdjust="spacingAndGlyphs"><tspan fill="#0a9a3e" font-size="14">*</tspan><tspan font-size="15">10% DSCTO.</tspan><tspan font-size="9.5" font-weight="normal"> / PARA FUNCIONES DE SÁBADOS Y DOMINGOS CON INTERBANK.</tspan></text>
<text x="39" y="1908" textLength="366" lengthAdjust="spacingAndGlyphs"><tspan fill="#0a9a3e" font-size="14">*</tspan><tspan font-size="15">15% DSCTO.</tspan><tspan font-size="9.5" font-weight="normal"> / PARA FUNCIONES DE MARTES A VIERNES CON INTERBANK.</tspan></text>
<text x="39" y="1925" textLength="494" lengthAdjust="spacingAndGlyphs"><tspan fill="#f0002d" font-size="14">*</tspan><tspan font-size="15">CLARO CLUB.</tspan><tspan font-size="9.5" font-weight="normal"> / COMPRANDO CON CÓDIGO DE DESCUENTO GENERADO EN EL APP DE CLARO CLUB.</tspan></text>
</g>
</svg>
</body></html>
